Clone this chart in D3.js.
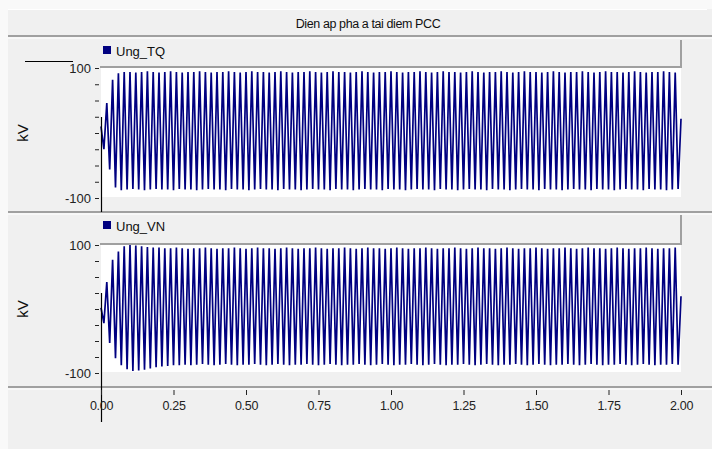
<!DOCTYPE html>
<html>
<head>
<meta charset="utf-8">
<script src="https://d3js.org/d3.v7.min.js"></script>
<style>
    body { margin: 0; background: #f9f9f9; }
    svg { display: block; font-family: Arial, "Liberation Sans", sans-serif; }
</style>
</head>
<body>
<div id="canvas"></div>

<script>
    const width = 712;
    const height = 449;

    const title = "Dien ap pha a tai diem PCC";
    const xTicks = [0, 0.25, 0.5, 0.75, 1.0, 1.25, 1.5, 1.75, 2.0];
    const yTicks = [-100, -75, -50, -25, 0, 25, 50, 75, 100];
    const yLabelled = [-100, 100];

    // half-cycle extremes (kV), peaks at t = 0.02k, troughs at t = 0.01 + 0.02k
    const tqPeaks = [
        10, 46, 82, 92, 94, 94, 93, 94, 95, 94,
        93, 94, 95, 94, 93, 94, 94, 95, 94, 93,
        94, 94, 95, 94, 93, 94, 95, 94, 94, 93,
        94, 95, 94, 93, 94, 94, 95, 94, 93, 94,
        95, 94, 94, 93, 94, 95, 94, 93, 94, 94,
        95, 94, 93, 94, 94, 95, 94, 93, 94, 95,
        94, 94, 93, 94, 95, 94, 93, 94, 94, 95,
        94, 93, 94, 95, 94, 94, 93, 94, 95, 94,
        93, 94, 94, 95, 94, 93, 94, 95, 94, 94,
        93, 94, 95, 94, 93, 94, 94, 95, 94, 93,
        22
    ];
    const tqTroughs = [
        -25, -56, -84, -88, -87, -86, -87, -88, -87, -86,
        -87, -87, -88, -86, -87, -87, -88, -87, -86, -87,
        -87, -88, -86, -87, -87, -88, -87, -86, -87, -87,
        -88, -86, -87, -87, -88, -87, -86, -87, -87, -88,
        -86, -87, -87, -88, -87, -86, -87, -87, -88, -86,
        -87, -87, -88, -87, -86, -87, -87, -88, -86, -87,
        -87, -88, -87, -86, -87, -87, -88, -86, -87, -87,
        -88, -87, -86, -87, -87, -88, -86, -87, -87, -88,
        -87, -86, -87, -87, -88, -86, -87, -87, -88, -87,
        -86, -87, -87, -88, -86, -87, -87, -88, -87, -86
    ];

    const vnPeaks = [
        2, 42, 77, 90, 98, 100, 99, 98, 97, 96,
        96, 95, 95, 96, 95, 94, 95, 95, 96, 95,
        94, 95, 95, 96, 95, 94, 95, 96, 95, 95,
        94, 95, 96, 95, 94, 95, 95, 96, 95, 94,
        95, 95, 96, 95, 94, 95, 96, 95, 95, 94,
        95, 96, 95, 94, 95, 95, 96, 95, 94, 95,
        95, 96, 95, 94, 95, 96, 95, 95, 94, 95,
        96, 95, 94, 95, 95, 96, 95, 94, 95, 95,
        96, 95, 94, 95, 96, 95, 95, 94, 95, 96,
        95, 94, 95, 95, 96, 95, 94, 95, 95, 96,
        20
    ];
    const vnTroughs = [
        -22, -53, -77, -88, -94, -97, -96, -95, -93, -91,
        -90, -89, -88, -88, -87, -88, -87, -86, -87, -88,
        -87, -86, -87, -88, -87, -87, -86, -87, -88, -87,
        -86, -87, -88, -87, -87, -86, -87, -88, -87, -86,
        -87, -88, -87, -87, -86, -87, -88, -87, -86, -87,
        -88, -87, -87, -86, -87, -88, -87, -86, -87, -88,
        -87, -87, -86, -87, -88, -87, -86, -87, -88, -87,
        -87, -86, -87, -88, -87, -86, -87, -88, -87, -87,
        -86, -87, -88, -87, -86, -87, -88, -87, -87, -86,
        -87, -88, -87, -86, -87, -88, -87, -87, -86, -87
    ];

    // merge extremes into a time series
    function buildSeries(peaks, troughs) {
        const pts = [];
        for (let i = 0; i < peaks.length + troughs.length; i++) {
            const v = i % 2 === 0 ? peaks[i / 2] : troughs[(i - 1) / 2];
            pts.push({t: i * 0.01, v});
        }
        return pts;
    }

    const panels = [
        {name: "Ung_TQ", data: buildSeries(tqPeaks, tqTroughs), top: 40, plotTop: 68, plotBottom: 198, cursorTop: 117, cursorBottom: 212},
        {name: "Ung_VN", data: buildSeries(vnPeaks, vnTroughs), top: 215, plotTop: 245, plotBottom: 373, cursorTop: 293, cursorBottom: 422}
    ];

    const plotLeft = 101;
    const plotRight = 681;

    const svg = d3.select("#canvas")
        .append("svg")
        .attr("width", width)
        .attr("height", height);

    // frame background
    svg.append("rect")
        .attr("x", 8).attr("y", 9)
        .attr("width", width - 8).attr("height", height - 9)
        .attr("fill", "#f0f0f0");

    // title bar
    svg.append("line")
        .attr("x1", 8).attr("x2", 707).attr("y1", 9.5).attr("y2", 9.5)
        .attr("stroke", "#ffffff");
    svg.append("text")
        .attr("x", 368).attr("y", 28)
        .attr("text-anchor", "middle")
        .attr("font-size", 12.5)
        .attr("letter-spacing", -0.4)
        .attr("fill", "#111")
        .text(title);

    // separators
    [36, 212, 387].forEach(y => {
        svg.append("line")
            .attr("x1", 8).attr("x2", width).attr("y1", y).attr("y2", y)
            .attr("stroke", "#a0a0a0").attr("stroke-width", 2);
        svg.append("line")
            .attr("x1", 8).attr("x2", width).attr("y1", y + 2).attr("y2", y + 2)
            .attr("stroke", "#ffffff").attr("stroke-width", 1);
    });

    const x = d3.scaleLinear().domain([0, 2]).range([plotLeft, plotRight]);

    panels.forEach(p => {
        const y = d3.scaleLinear().domain([-100, 100]).range([p.plotBottom, p.plotTop]);
        const g = svg.append("g");

        // legend box
        g.append("rect")
            .attr("x", plotLeft - 1).attr("y", p.top)
            .attr("width", plotRight - plotLeft + 1).attr("height", p.plotTop - p.top - 1)
            .attr("fill", "#f0f0f0");
        g.append("path")
            .attr("d", `M${plotRight},${p.top} V${p.plotTop - 1} H${plotLeft - 1}`)
            .attr("fill", "none")
            .attr("stroke", "#a0a0a0").attr("stroke-width", 2);
        g.append("rect")
            .attr("x", 103).attr("y", p.top + 6)
            .attr("width", 8).attr("height", 8)
            .attr("fill", "#000080");
        g.append("text")
            .attr("x", 116).attr("y", p.top + 16)
            .attr("font-size", 13)
            .attr("fill", "#111")
            .text(p.name);

        // plot area
        g.append("rect")
            .attr("x", plotLeft).attr("y", p.plotTop)
            .attr("width", plotRight - plotLeft).attr("height", p.plotBottom - p.plotTop - 1)
            .attr("fill", "#ffffff");

        // y axis
        const yAxis = d3.axisLeft(y)
            .tickValues(yTicks)
            .tickSize(4)
            .tickPadding(4)
            .tickFormat(d => yLabelled.includes(d) ? String(d) : "");
        const ya = g.append("g")
            .attr("transform", `translate(${plotLeft - 2},0)`)
            .call(yAxis);
        ya.select(".domain").remove();
        ya.selectAll("line").attr("stroke", "#222");
        ya.selectAll("text").attr("font-size", 13).attr("fill", "#222")
            .attr("font-family", "Arial, 'Liberation Sans', sans-serif");

        g.append("text")
            .attr("transform", `translate(28,${(p.plotTop + p.plotBottom) / 2}) rotate(-90)`)
            .attr("text-anchor", "middle")
            .attr("font-size", 15)
            .attr("fill", "#111")
            .text("kV");

        // waveform
        const line = d3.line()
            .x(d => x(d.t))
            .y(d => y(d.v));
        g.append("path")
            .datum(p.data)
            .attr("d", line)
            .attr("fill", "none")
            .attr("stroke", "#000080")
            .attr("stroke-width", 1.7);

        // cursor marker
        g.append("line")
            .attr("x1", plotLeft + 0.5).attr("x2", plotLeft + 0.5)
            .attr("y1", p.cursorTop).attr("y2", p.cursorBottom)
            .attr("stroke", "#000").attr("stroke-width", 1.2);
    });

    // marker line top-left
    svg.append("line")
        .attr("x1", 25).attr("x2", 73).attr("y1", 61.5).attr("y2", 61.5)
        .attr("stroke", "#000").attr("stroke-width", 1.2);

    // x axis
    const xAxis = d3.axisBottom(x)
        .tickValues(xTicks)
        .tickSize(5)
        .tickPadding(6)
        .tickFormat(d3.format(".2f"));
    const xa = svg.append("g")
        .attr("transform", "translate(0,390)")
        .call(xAxis);
    xa.select(".domain").remove();
    xa.selectAll("line").attr("stroke", "#222");
    xa.selectAll("text").attr("font-size", 12.5).attr("fill", "#222")
        .attr("letter-spacing", -0.3)
        .attr("font-family", "Arial, 'Liberation Sans', sans-serif");
</script>
</body>
</html>
